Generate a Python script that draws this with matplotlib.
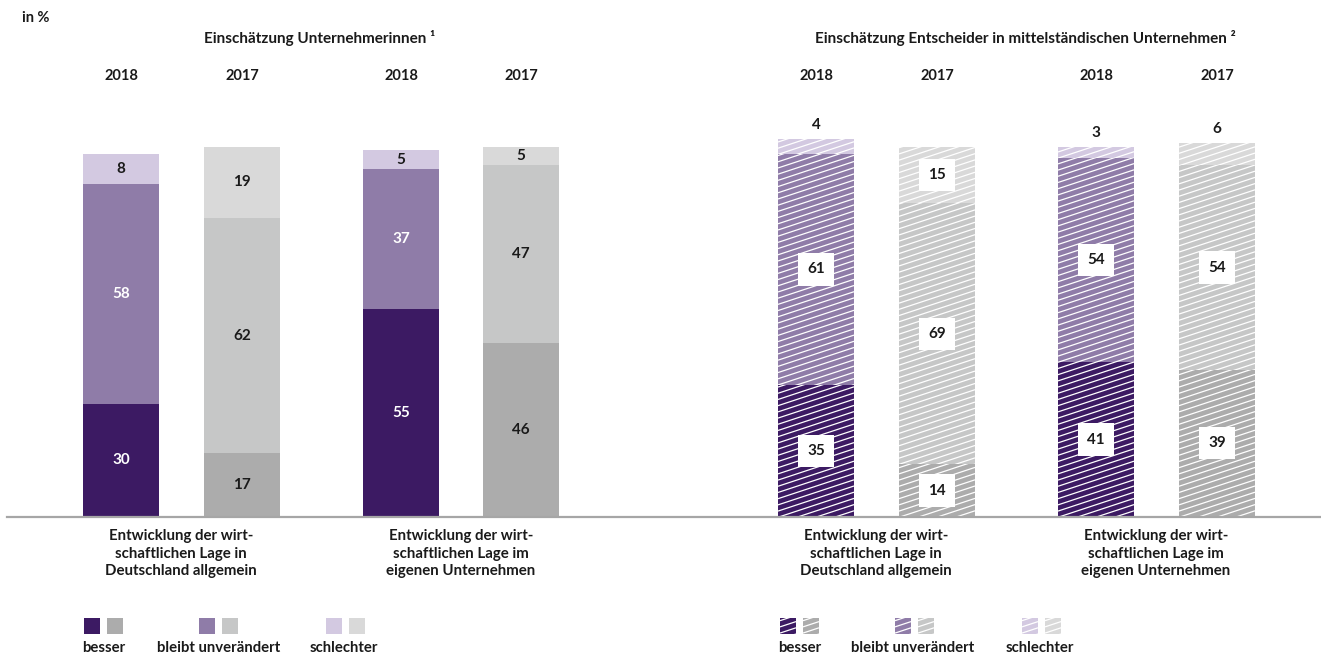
import matplotlib.pyplot as plt
import numpy as np
from matplotlib.patches import Rectangle

plt.rcParams['font.family'] = ['Lato', 'DejaVu Sans']

# answer shares in %: besser, bleibt unverändert, schlechter
frauen_de_2018 = [30, 58, 8]
frauen_de_2017 = [17, 62, 19]
frauen_eigen_2018 = [55, 37, 5]
frauen_eigen_2017 = [46, 47, 5]
mittelstand_de_2018 = [35, 61, 4]
mittelstand_de_2017 = [14, 69, 15]
mittelstand_eigen_2018 = [41, 54, 3]
mittelstand_eigen_2017 = [39, 54, 6]

years = ['2018', '2017', '2018', '2017']
categories = ['Entwicklung der wirt-\nschaftlichen Lage in\nDeutschland allgemein',
              'Entwicklung der wirt-\nschaftlichen Lage im\neigenen Unternehmen']
legend_labels = ['besser', 'bleibt unverändert', 'schlechter']
titles = ['Einschätzung Unternehmerinnen', 'Einschätzung Entscheider in mittelständischen Unternehmen']

purple = ['#3c1a63', '#8f7ca8', '#d3c9e1']
grey = ['#acacac', '#c6c7c7', '#d9d9d9']

PX = 3.78      # pixels per percent
BASE = 517     # baseline, pixels from top
W = 76

fig = plt.figure(figsize=(13.21, 6.57), dpi=100)
ax = fig.add_axes([0, 0, 1, 1])
ax.set_xlim(0, 1321)
ax.set_ylim(-(657 - BASE) / PX, BASE / PX)
ax.axis('off')


def py(y_px):
    # pixel row -> data y
    return (BASE - y_px) / PX


def stripes(patch, x0, y0, w, h):
    # shallow white diagonal lines clipped to a patch (x/y in data units)
    slope = 0.33 / PX
    step = 6.2 / PX
    c = np.arange(y0 - slope * w - step, y0 + h + step, step)
    xs = np.array([x0, x0 + w])
    for ci in c:
        ln, = ax.plot(xs, ci + slope * (xs - x0), color='white', lw=0.9, zorder=3,
                      solid_capstyle='butt')
        ln.set_clip_path(patch)


def stacked(x, values, colors, hatched):
    bottom = 0
    for i, (v, col) in enumerate(zip(values, colors)):
        r = Rectangle((x - W / 2, bottom), W, v, facecolor=col, edgecolor='none', zorder=2)
        ax.add_patch(r)
        if hatched:
            stripes(r, x - W / 2, bottom, W, v)
        mid = bottom + v / 2
        if hatched:
            if v <= 6:
                ax.text(x, bottom + v + 14 / PX, str(v), ha='center', va='center',
                        fontsize=11, fontweight='bold', color='#1a1a1a', zorder=5)
            else:
                ax.text(x, mid, str(v), ha='center', va='center', fontsize=11,
                        fontweight='bold', color='#1a1a1a', zorder=5,
                        bbox=dict(boxstyle='square,pad=0.6', fc='white', ec='none'))
        else:
            tc = 'white' if (colors is purple and i < 2) else '#1a1a1a'
            ax.text(x, mid, str(v), ha='center', va='center', fontsize=11,
                    fontweight='bold', color=tc, zorder=5)
        bottom += v


xs = [121, 242, 401, 521, 816, 937, 1096, 1217]
stacked(xs[0], frauen_de_2018, purple, False)
stacked(xs[1], frauen_de_2017, grey, False)
stacked(xs[2], frauen_eigen_2018, purple, False)
stacked(xs[3], frauen_eigen_2017, grey, False)
stacked(xs[4], mittelstand_de_2018, purple, True)
stacked(xs[5], mittelstand_de_2017, grey, True)
stacked(xs[6], mittelstand_eigen_2018, purple, True)
stacked(xs[7], mittelstand_eigen_2017, grey, True)

ax.plot([7, 1321], [0, 0], color='#a6a6a6', lw=1.6, zorder=4)

txt = dict(fontweight='bold', color='#1a1a1a')
ax.text(22, py(18), 'in %', ha='left', va='center', fontsize=10.5, **txt)
ax.text(320, py(38), titles[0] + ' \u00b9', ha='center', va='center', fontsize=11, **txt)
ax.text(1025, py(38), titles[1] + ' \u00b2', ha='center', va='center', fontsize=11, **txt)

for x, y in zip(xs, years + years):
    ax.text(x, py(76), y, ha='center', va='center', fontsize=10.5, **txt)

for x, cat in zip([181, 461, 876, 1156], categories + categories):
    ax.text(x, py(529), cat, ha='center', va='top', fontsize=10.8, linespacing=1.33, **txt)

# legends
legend_sets = [([92, 207, 334], [82, 157, 310], False),
               ([788, 903, 1030], [778, 851, 1006], True)]
for sq_x, lab_x, hatched in legend_sets:
    for i, (sx, lx) in enumerate(zip(sq_x, lab_x)):
        for j, col in enumerate([purple[i], grey[i]]):
            x0 = sx - 8 + j * 23
            r = Rectangle((x0, py(634)), 16, 16 / PX, facecolor=col, edgecolor='none', zorder=2)
            ax.add_patch(r)
            if hatched:
                stripes(r, x0, py(634), 16, 16 / PX)
        ax.text(lx, py(648), legend_labels[i], ha='left', va='center', fontsize=10.7, **txt)

fig.savefig('out.png', dpi=100)
